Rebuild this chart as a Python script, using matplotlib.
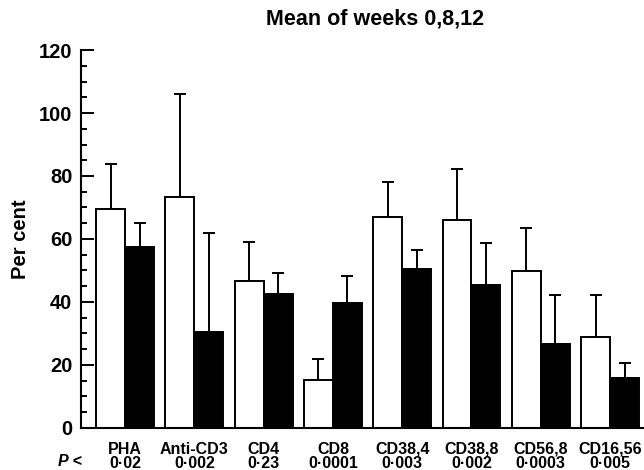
import matplotlib.pyplot as plt
import numpy as np
from matplotlib.ticker import MultipleLocator

# values (per cent, mean and upper error bar)
categories = ["PHA", "Anti-CD3", "CD4", "CD8", "CD38,4", "CD38,8", "CD56,8", "CD16,56"]
p_values = ["0·02", "0·002", "0·23", "0·0001", "0·003", "0·002", "0·0003", "0·005"]
open_mean = [69.4, 73.4, 46.8, 15.2, 67.1, 66.0, 49.9, 28.8]
open_err = [14.4, 32.6, 12.2, 6.6, 11.0, 16.3, 13.7, 13.3]
filled_mean = [57.4, 30.6, 42.5, 39.6, 50.4, 45.3, 26.7, 15.8]
filled_err = [7.8, 31.2, 6.6, 8.7, 6.1, 13.3, 15.5, 4.9]

plt.rcParams["font.family"] = ["Liberation Sans", "DejaVu Sans"]
plt.rcParams["font.weight"] = "bold"

fig = plt.figure(figsize=(6.44, 4.70), dpi=100)
ax = fig.add_axes([0.1253, 0.0894, 0.8747, 0.8042])

x = np.arange(len(categories))
w = 0.418
zeros = np.zeros(len(categories))

ax.bar(x - w / 2, open_mean, w, color="white", edgecolor="black", linewidth=1.4, zorder=2)
ax.bar(x + w / 2, filled_mean, w, color="black", edgecolor="black", linewidth=1.4, zorder=2)
ax.errorbar(x - w / 2, open_mean, yerr=[zeros, open_err], fmt="none", ecolor="black",
            elinewidth=1.4, capsize=4, capthick=1.4, zorder=1)
ax.errorbar(x + w / 2, filled_mean, yerr=[zeros, filled_err], fmt="none", ecolor="black",
            elinewidth=1.4, capsize=4, capthick=1.4, zorder=1)

ax.set_xlim(-0.64, 7.49)
ax.set_ylim(0, 120)
ax.spines["top"].set_visible(False)
ax.spines["right"].set_visible(False)
ax.spines["left"].set_linewidth(1.5)
ax.spines["bottom"].set_linewidth(1.5)

ax.yaxis.set_major_locator(MultipleLocator(20))
ax.yaxis.set_minor_locator(MultipleLocator(5))
ax.tick_params(axis="y", which="major", direction="in", length=9, width=1.4,
               labelsize=14.5, pad=6)
ax.tick_params(axis="y", which="minor", direction="in", length=4.5, width=1.4)

ax.set_xticks(x)
ax.set_xticklabels([f"{c}\n{p}" for c, p in zip(categories, p_values)],
                   fontsize=11.5, fontweight="bold", linespacing=0.92)
ax.tick_params(axis="x", length=0, pad=10)

ax.set_ylabel("Per cent", fontsize=14.5, fontweight="bold")
ax.yaxis.set_label_coords(-0.09, 0.5)

fig.text(375 / 644, 1 - 19 / 470, "Mean of weeks 0,8,12", ha="center", va="center",
         fontsize=15.5, fontweight="bold")
fig.text(70 / 644, 1 - 461 / 470, "P <", ha="center", va="center",
         fontsize=11.5, fontweight="bold", style="italic")

fig.savefig("out.png", dpi=100)
